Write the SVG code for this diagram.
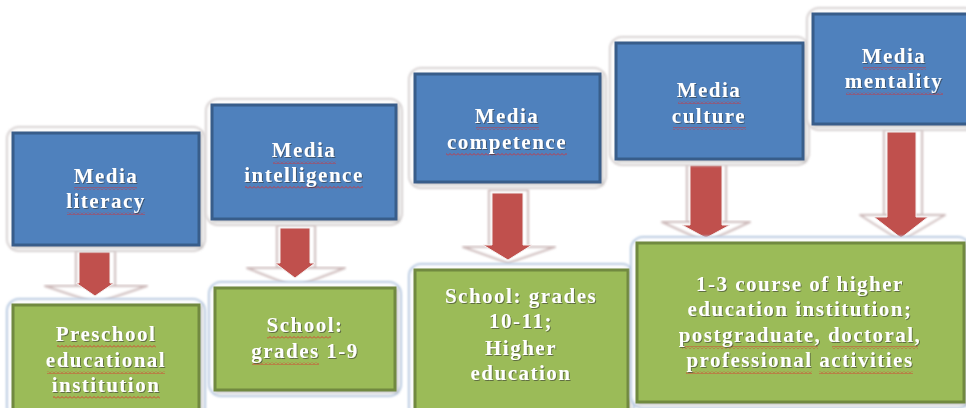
<svg xmlns="http://www.w3.org/2000/svg" width="966" height="408" viewBox="0 0 966 408">
<defs>
<style>
.frame{fill:#ffffff;stroke:#d6d0d0;stroke-width:2;filter:url(#soft)}
.gframe{fill:#ffffff;stroke:#b4c7e0;stroke-width:2;filter:url(#soft)}
.blue{fill:#4F81BD;stroke:#385D8A;stroke-width:3}
.green{fill:#9BBB59;stroke:#71893F;stroke-width:3}
.t{font-family:"Liberation Serif","Times New Roman",serif;font-weight:bold;font-size:21px;letter-spacing:1.5px;fill:#ffffff;text-anchor:middle;filter:url(#ts)}
.red{fill:#C0504D;stroke:#f4eeee;stroke-width:1}
.pale{fill:#ffffff;stroke:#cdbaba;stroke-width:2;stroke-linejoin:round;filter:url(#soft)}
.sq{fill:url(#sq)}
</style>
<filter id="ts" x="-10%" y="-30%" width="120%" height="160%">
<feDropShadow dx="1" dy="1" stdDeviation="0.6" flood-color="#333333" flood-opacity="0.55"/>
</filter>
<filter id="bs" x="-10%" y="-10%" width="120%" height="120%">
<feDropShadow dx="1.5" dy="1.5" stdDeviation="1.5" flood-color="#777777" flood-opacity="0.45"/>
</filter>
<filter id="soft" x="-10%" y="-10%" width="120%" height="120%">
<feGaussianBlur stdDeviation="0.8"/>
</filter>
<pattern id="sq" patternUnits="userSpaceOnUse" width="4" height="3">
<path d="M0,2.5 L2,0.5 L4,2.5" fill="none" stroke="#e02a2a" stroke-width="0.8"/>
</pattern>
</defs>
<rect width="966" height="408" fill="#ffffff"/>

<g id="connectors">
<g id="arrow1">
<rect class="pale" x="76" y="250" width="39" height="38"/>
<polygon class="pale" points="45,286 147,286 96,303"/>
<polygon class="red" points="79,252 110,252 110,283 114,283 95,296 76,283 79,283"/>
</g>
<g id="arrow2">
<rect class="pale" x="277" y="225" width="38" height="44"/>
<polygon class="pale" points="247,268 345,268 295,287"/>
<polygon class="red" points="280,228 310,228 310,263 315,263 295,278 275,263 280,263"/>
</g>
<g id="arrow3">
<rect class="pale" x="489" y="190" width="39" height="58"/>
<polygon class="pale" points="463,247 555,247 508,263"/>
<polygon class="red" points="492,193 523,193 523,245 532,245 508,260 483,245 492,245"/>
</g>
<g id="arrow4">
<rect class="pale" x="687" y="162" width="39" height="61"/>
<polygon class="pale" points="662,222 750,222 706,242"/>
<polygon class="red" points="690,165 722,165 722,225 730,225 706,238 682,225 690,225"/>
</g>
<g id="arrow5">
<rect class="pale" x="884" y="129" width="38" height="87"/>
<polygon class="pale" points="860,215 945,215 901,241"/>
<polygon class="red" points="887,132 916,132 916,217 928,217 901,238 874,217 887,217"/>
</g>
</g>

<g id="node-media-literacy">
<rect class="frame" x="7" y="127" width="198" height="124" rx="12"/>
<rect class="blue" x="13" y="133" width="186" height="112" filter="url(#bs)"/>
<rect class="sq" x="74" y="187" width="63" height="3"/>
<rect class="sq" x="67" y="212" width="78" height="3"/>
<text class="t" x="106" y="183">Media</text>
<text class="t" x="106" y="208">literacy</text>
</g>

<g id="node-preschool">
<rect class="gframe" x="7" y="299" width="198" height="120" rx="12"/>
<rect class="green" x="13" y="305" width="186" height="110" filter="url(#bs)"/>
<rect class="sq" x="57" y="345" width="99" height="3"/>
<rect class="sq" x="47" y="371" width="118" height="3"/>
<rect class="sq" x="53" y="396" width="107" height="3"/>
<text class="t" x="106" y="341">Preschool</text>
<text class="t" x="106" y="367">educational</text>
<text class="t" x="106" y="392">institution</text>
</g>

<g id="node-media-intelligence">
<rect class="frame" x="206" y="99" width="196" height="126" rx="12"/>
<rect class="blue" x="212" y="105" width="184" height="114" filter="url(#bs)"/>
<rect class="sq" x="273" y="161" width="63" height="3"/>
<rect class="sq" x="245" y="186" width="118" height="3"/>
<text class="t" x="304" y="157">Media</text>
<text class="t" x="304" y="182">intelligence</text>
</g>

<g id="node-school-1-9">
<rect class="gframe" x="209" y="282" width="192" height="114" rx="12"/>
<rect class="green" x="215" y="288" width="180" height="102" filter="url(#bs)"/>
<rect class="sq" x="267" y="336" width="64" height="3"/>
<rect class="sq" x="252" y="362" width="67" height="3"/>
<text class="t" x="305" y="332">School:</text>
<text class="t" x="305" y="358">grades 1-9</text>
</g>

<g id="node-media-competence">
<rect class="frame" x="409" y="68" width="197" height="120" rx="12"/>
<rect class="blue" x="415" y="74" width="185" height="108" filter="url(#bs)"/>
<rect class="sq" x="476" y="127" width="63" height="3"/>
<rect class="sq" x="446" y="153" width="121" height="3"/>
<text class="t" x="507" y="123">Media</text>
<text class="t" x="507" y="149">competence</text>
</g>

<g id="node-school-10-11">
<rect class="gframe" x="409" y="264" width="225" height="155" rx="12"/>
<rect class="green" x="415" y="270" width="213" height="145" filter="url(#bs)"/>
<text class="t" x="521" y="303">School: grades</text>
<text class="t" x="521" y="328">10-11;</text>
<text class="t" x="521" y="355">Higher</text>
<text class="t" x="521" y="380">education</text>
</g>

<g id="node-media-culture">
<rect class="frame" x="610" y="37" width="199" height="128" rx="12"/>
<rect class="blue" x="616" y="43" width="187" height="116" filter="url(#bs)"/>
<rect class="sq" x="678" y="101" width="63" height="3"/>
<rect class="sq" x="673" y="127" width="73" height="3"/>
<text class="t" x="709" y="97">Media</text>
<text class="t" x="709" y="123">culture</text>
</g>

<g id="node-media-mentality">
<rect class="frame" x="807" y="8" width="170" height="122" rx="12"/>
<rect class="blue" x="813" y="14" width="160" height="110" filter="url(#bs)"/>
<rect class="sq" x="863" y="67" width="63" height="3"/>
<rect class="sq" x="846" y="92" width="97" height="3"/>
<text class="t" x="894" y="63">Media</text>
<text class="t" x="894" y="88">mentality</text>
</g>

<g id="node-higher-education">
<rect class="gframe" x="631" y="237" width="339" height="171" rx="12"/>
<rect class="green" x="637" y="243" width="327" height="159" filter="url(#bs)"/>
<rect class="sq" x="682" y="346" width="136" height="3"/>
<rect class="sq" x="832" y="346" width="86" height="3"/>
<rect class="sq" x="686" y="371" width="126" height="3"/>
<rect class="sq" x="819" y="371" width="94" height="3"/>
<text class="t" x="800" y="291">1-3 course of higher</text>
<text class="t" x="800" y="316">education institution;</text>
<text class="t" x="800" y="342">postgraduate, doctoral,</text>
<text class="t" x="800" y="367">professional activities</text>
</g>
</svg>
